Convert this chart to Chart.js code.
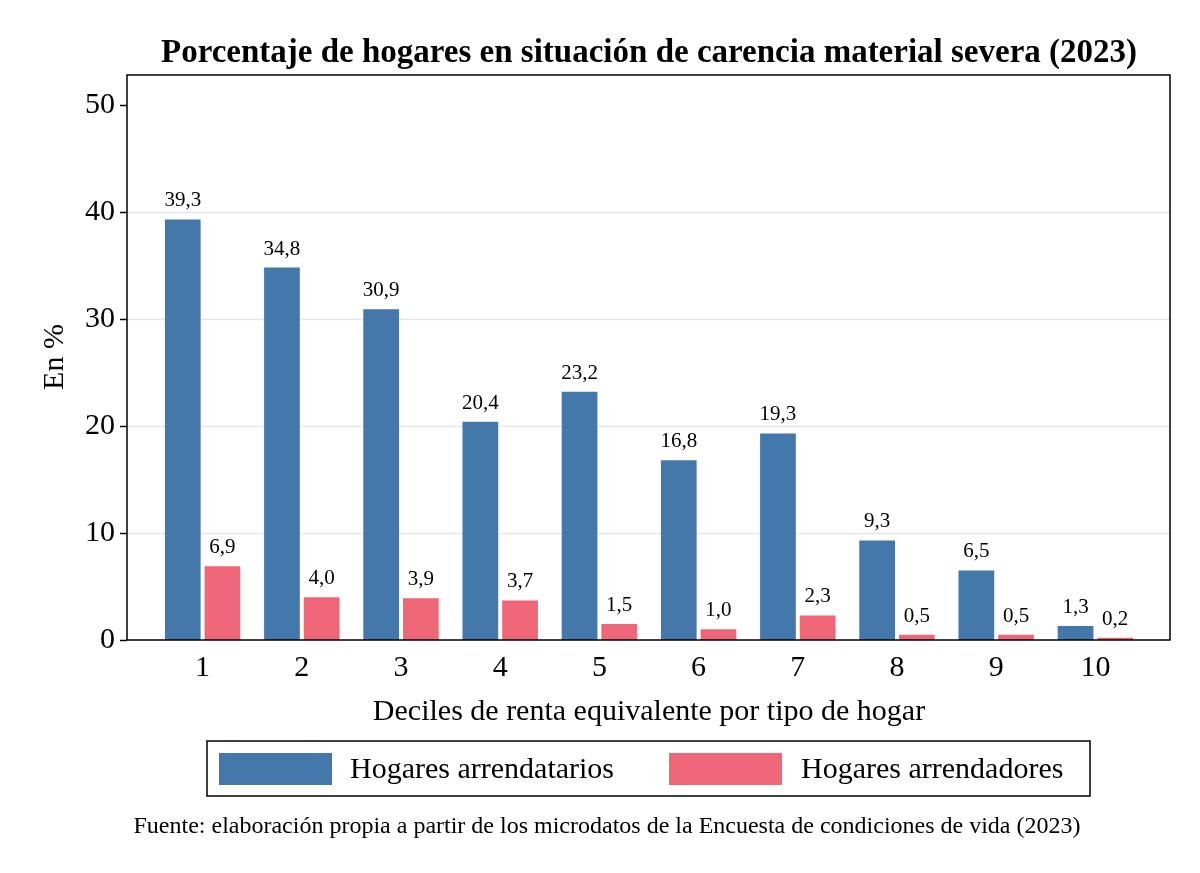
<!DOCTYPE html>
<html><head><meta charset="utf-8">
<script src="https://cdn.jsdelivr.net/npm/chart.js@4"></script>
<style>html,body{margin:0;background:#fff}canvas{display:block}</style>
</head><body>
<div style="width:1200px;height:873px"><canvas id="c"></canvas></div>
<script>
const categories = ['1','2','3','4','5','6','7','8','9','10'];
const arrendatarios = [39.3,34.8,30.9,20.4,23.2,16.8,19.3,9.3,6.5,1.3];
const arrendadores = [6.9,4.0,3.9,3.7,1.5,1.0,2.3,0.5,0.5,0.2];
const yTicks = [0,10,20,30,40,50];
const F = 'Liberation Serif, serif';
const fmt = v => v.toFixed(1).replace('.', ',');
const BOX = {l:127, r:1170};

const deco = {
  id:'deco',
  beforeDatasetsDraw(ch){
    const c = ch.ctx, a = ch.chartArea, y = ch.scales.y;
    c.save();
    yTicks.forEach(v=>{
      const py = Math.round(y.getPixelForValue(v))+0.5;
      if(v>0 && v<50){ c.strokeStyle='#e6e6e6'; c.lineWidth=1.5;
        c.beginPath(); c.moveTo(BOX.l,py); c.lineTo(BOX.r,py); c.stroke(); }
      c.strokeStyle='#000'; c.lineWidth=1.5;
      c.beginPath(); c.moveTo(BOX.l-7,py); c.lineTo(BOX.l,py); c.stroke();
    });
    c.restore();
  },
  afterDatasetsDraw(ch){
    const c = ch.ctx, a = ch.chartArea;
    c.save();
    c.fillStyle='#000'; c.textAlign='center'; c.textBaseline='bottom';
    c.font = '21px '+F;
    ch.data.datasets.forEach((ds,i)=>{
      ch.getDatasetMeta(i).data.forEach((b,j)=>{
        c.fillText(fmt(ds.data[j]), b.x, b.y-8);
      });
    });
    c.strokeStyle='#000'; c.lineWidth=1.5;
    c.strokeRect(BOX.l,a.top,BOX.r-BOX.l,a.bottom-a.top);
    c.font='bold 33px '+F; c.textBaseline='middle';
    c.fillText('Porcentaje de hogares en situación de carencia material severa (2023)', 649, 53);
    c.font='30px '+F;
    c.fillText('Deciles de renta equivalente por tipo de hogar', 649, 712);
    c.save(); c.translate(55,357); c.rotate(-Math.PI/2); c.fillText('En %',0,0); c.restore();
    c.lineWidth=1.5; c.strokeRect(207,741,883,55);
    c.fillStyle='#4477aa'; c.fillRect(219,753,113,32);
    c.fillStyle='#ee6677'; c.fillRect(669,753,113,32);
    c.fillStyle='#000'; c.textAlign='left';
    c.fillText('Hogares arrendatarios', 350, 770);
    c.fillText('Hogares arrendadores', 801, 770);
    c.textAlign='center'; c.font='24px '+F;
    c.fillText('Fuente: elaboración propia a partir de los microdatos de la Encuesta de condiciones de vida (2023)', 607, 827);
    c.restore();
  }
};

new Chart(document.getElementById('c'), {
  type:'bar',
  data:{labels:categories, datasets:[
    {label:'Hogares arrendatarios', data:arrendatarios, backgroundColor:'#4477aa'},
    {label:'Hogares arrendadores', data:arrendadores, backgroundColor:'#ee6677'}
  ]},
  options:{
    responsive:true, maintainAspectRatio:false, animation:false,
    layout:{padding:{top:75,right:55,left:0,bottom:0}},
    plugins:{legend:{display:false},tooltip:{enabled:false}},
    scales:{
      x:{
        afterFit(s){s.height=233;},
        grid:{display:false}, border:{display:false},
        categoryPercentage:0.75, barPercentage:1,
        ticks:{color:'#000',font:{family:F,size:30},padding:2}
      },
      y:{
        min:0,max:52.8,
        afterFit(s){s.width=153;},
        afterBuildTicks(s){s.ticks=yTicks.map(v=>({value:v}));},
        grid:{display:false, drawTicks:false},
        border:{display:false},
        ticks:{color:'#000',font:{family:F,size:30},padding:38}
      }
    }
  },
  plugins:[deco]
});
</script>
</body></html>
